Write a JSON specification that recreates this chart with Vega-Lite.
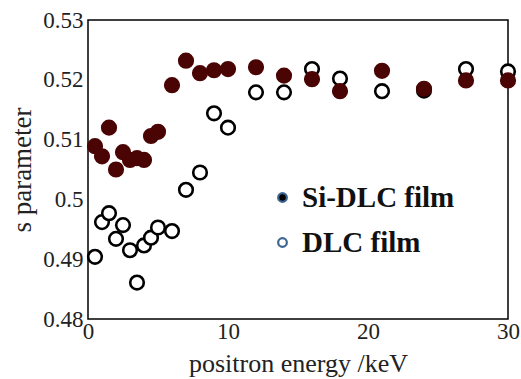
{
  "$schema": "https://vega.github.io/schema/vega-lite/v6.json",
  "width": 420,
  "height": 299,
  "autosize": {"type": "none"},
  "padding": {"left": 88, "top": 20, "right": 13, "bottom": 60},
  "background": "white",
  "config": {
    "view": {"stroke": "#000", "strokeWidth": 1.5},
    "axis": {
      "domain": false, "grid": false, "tickSize": 0, "tickColor": "#000", "tickWidth": 1.2,
      "labelFont": "Liberation Serif", "labelFontSize": 23, "labelColor": "#222",
      "titleFont": "Liberation Serif", "titleFontSize": 26, "titleFontWeight": "normal", "titleColor": "#222"
    },
    "legend": {
      "orient": "none", "legendX": 180, "title": null, "padding": 0,
      "symbolSize": 75, "symbolStrokeWidth": 2.2, "labelOffset": 5, "symbolStrokeColor": "#3d6592",
      "labelFont": "Liberation Serif", "labelFontSize": 29, "labelFontWeight": "bold", "labelColor": "#111"
    }
  },
  "datasets": {
    "pts": [
      {"film": "DLC film", "energy": 0.5, "s": 0.4904},
      {"film": "DLC film", "energy": 1, "s": 0.4962},
      {"film": "DLC film", "energy": 1.5, "s": 0.4977},
      {"film": "DLC film", "energy": 2, "s": 0.4934},
      {"film": "DLC film", "energy": 2.5, "s": 0.4957},
      {"film": "DLC film", "energy": 3, "s": 0.4915},
      {"film": "DLC film", "energy": 3.5, "s": 0.4861},
      {"film": "DLC film", "energy": 4, "s": 0.4923},
      {"film": "DLC film", "energy": 4.5, "s": 0.4936},
      {"film": "DLC film", "energy": 5, "s": 0.4953},
      {"film": "DLC film", "energy": 6, "s": 0.4947},
      {"film": "DLC film", "energy": 7, "s": 0.5016},
      {"film": "DLC film", "energy": 8, "s": 0.5045},
      {"film": "DLC film", "energy": 9, "s": 0.5144},
      {"film": "DLC film", "energy": 10, "s": 0.5120},
      {"film": "DLC film", "energy": 12, "s": 0.5179},
      {"film": "DLC film", "energy": 14, "s": 0.5179},
      {"film": "DLC film", "energy": 16, "s": 0.5218},
      {"film": "DLC film", "energy": 18, "s": 0.5202},
      {"film": "DLC film", "energy": 21, "s": 0.5181},
      {"film": "DLC film", "energy": 24, "s": 0.5182},
      {"film": "DLC film", "energy": 27, "s": 0.5218},
      {"film": "DLC film", "energy": 30, "s": 0.5214},
      {"film": "Si-DLC film", "energy": 0.5, "s": 0.5089},
      {"film": "Si-DLC film", "energy": 1, "s": 0.5072},
      {"film": "Si-DLC film", "energy": 1.5, "s": 0.5120},
      {"film": "Si-DLC film", "energy": 2, "s": 0.5050},
      {"film": "Si-DLC film", "energy": 2.5, "s": 0.5079},
      {"film": "Si-DLC film", "energy": 3, "s": 0.5066},
      {"film": "Si-DLC film", "energy": 3.5, "s": 0.5069},
      {"film": "Si-DLC film", "energy": 4, "s": 0.5066},
      {"film": "Si-DLC film", "energy": 4.5, "s": 0.5106},
      {"film": "Si-DLC film", "energy": 5, "s": 0.5113},
      {"film": "Si-DLC film", "energy": 6, "s": 0.5191},
      {"film": "Si-DLC film", "energy": 7, "s": 0.5232},
      {"film": "Si-DLC film", "energy": 8, "s": 0.5211},
      {"film": "Si-DLC film", "energy": 9, "s": 0.5216},
      {"film": "Si-DLC film", "energy": 10, "s": 0.5218},
      {"film": "Si-DLC film", "energy": 12, "s": 0.5221},
      {"film": "Si-DLC film", "energy": 14, "s": 0.5207},
      {"film": "Si-DLC film", "energy": 16, "s": 0.5201},
      {"film": "Si-DLC film", "energy": 18, "s": 0.5181},
      {"film": "Si-DLC film", "energy": 21, "s": 0.5215},
      {"film": "Si-DLC film", "energy": 24, "s": 0.5185},
      {"film": "Si-DLC film", "energy": 27, "s": 0.5199},
      {"film": "Si-DLC film", "energy": 30, "s": 0.5199}
    ]
  },
  "data": {"name": "pts"},
  "resolve": {
    "axis": {"x": "independent", "y": "independent"},
    "scale": {"shape": "independent"},
    "legend": {"shape": "independent"}
  },
  "layer": [
    {
      "transform": [{"filter": "datum.film === 'DLC film'"}],
      "mark": {"type": "point", "filled": true, "strokeWidth": 2.6, "size": 185, "opacity": 1},
      "encoding": {
        "x": {
          "field": "energy", "type": "quantitative",
          "scale": {"domain": [0, 30], "nice": false, "zero": false},
          "axis": {
            "orient": "bottom", "title": "positron energy /keV", "values": [0, 5, 10, 15, 20, 25, 30],
            "labelExpr": "datum.value % 10 === 0 ? datum.label : ''", "labelPadding": 1, "titlePadding": 7,
            "labelFontSize": 23, "labelFlush": false, "labelOverlap": false,
            "encode": {
              "ticks": {"update": {"y2": {"signal": "datum.value % 10 === 0 ? -9 : -5"}}},
              "labels": {"update": {"fontSize": {"value": 23}}}
            }
          }
        },
        "y": {
          "field": "s", "type": "quantitative",
          "scale": {"domain": [0.48, 0.53], "nice": false, "zero": false},
          "axis": {
            "orient": "left", "title": "s parameter", "titleFontSize": 27,
            "values": [0.48, 0.485, 0.49, 0.495, 0.5, 0.505, 0.51, 0.515, 0.52, 0.525, 0.53],
            "labelExpr": "(round(datum.value * 1000) % 10 === 0) ? datum.label : ''",
            "format": "~g", "labelFontSize": 23, "labelPadding": 5, "titlePadding": 6, "labelFlush": false, "labelOverlap": false,
            "encode": {
              "ticks": {"update": {"x2": {"signal": "(round(datum.value * 1000) % 10 === 0) ? 10 : 5"}}},
              "labels": {"update": {"fontSize": {"value": 23}}}
            }
          }
        },
        "fill": {
          "field": "film", "type": "nominal", "legend": null,
          "scale": {"domain": ["Si-DLC film", "DLC film"], "range": ["#4a0404", "#ffffff"]}
        },
        "stroke": {
          "field": "film", "type": "nominal", "legend": null,
          "scale": {"domain": ["Si-DLC film", "DLC film"], "range": ["#4a0404", "#000000"]}
        },
        "shape": {
          "field": "film", "type": "nominal",
          "scale": {"domain": ["DLC film"], "range": ["circle"]},
          "legend": {"legendY": 208, "symbolFillColor": "#ffffff"}
        }
      }
    },
    {
      "transform": [{"filter": "datum.film === 'Si-DLC film'"}],
      "mark": {"type": "point", "filled": true, "strokeWidth": 2.6, "size": 185, "opacity": 1},
      "encoding": {
        "x": {
          "field": "energy", "type": "quantitative",
          "axis": {
            "orient": "top", "title": null, "labels": false, "values": [0, 5, 10, 15, 20, 25, 30],
            "encode": {"ticks": {"update": {"y2": {"signal": "datum.value % 10 === 0 ? 9 : 5"}}}}
          }
        },
        "y": {
          "field": "s", "type": "quantitative",
          "axis": {
            "orient": "right", "title": null, "labels": false,
            "values": [0.48, 0.485, 0.49, 0.495, 0.5, 0.505, 0.51, 0.515, 0.52, 0.525, 0.53],
            "encode": {"ticks": {"update": {"x2": {"signal": "(round(datum.value * 1000) % 10 === 0) ? -10 : -5"}}}}
          }
        },
        "fill": {"field": "film", "type": "nominal", "legend": null},
        "stroke": {"field": "film", "type": "nominal", "legend": null},
        "shape": {
          "field": "film", "type": "nominal",
          "scale": {"domain": ["Si-DLC film"], "range": ["circle"]},
          "legend": {"legendY": 163, "symbolFillColor": "#000000"}
        }
      }
    }
  ]
}
